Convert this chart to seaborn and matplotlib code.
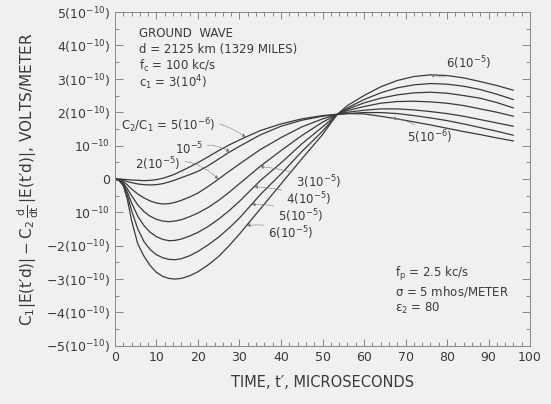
import numpy as np
import pandas as pd
import seaborn as sns
import matplotlib.pyplot as plt
from matplotlib.ticker import MultipleLocator

# time axis (microseconds) and curve values in units of 1e-10 V/m
t_us = [0, 1, 2, 3, 4, 5.5, 7, 8.5, 10, 11.5, 13, 14.5, 16, 18, 20, 22.5, 25, 27.5, 30,
        35, 40, 45, 50, 53.5, 56, 60, 64, 68, 72, 76, 80, 84, 88, 92, 96]

ratios = ['5e-6', '1e-5', '2e-5', '3e-5', '4e-5', '5e-5', '6e-5']

r_5e6 = [0, 0, -0.01, -0.02, -0.03, -0.04, -0.05, -0.04, -0.02, 0.02, 0.08, 0.15, 0.24, 0.36, 0.49,
         0.67, 0.85, 1.02, 1.17,
         1.45, 1.65, 1.80, 1.90, 1.94, 1.96, 1.95, 1.88, 1.80, 1.71, 1.62, 1.52, 1.42, 1.33, 1.23, 1.14]
r_1e5 = [0, -0.01, -0.04, -0.08, -0.11, -0.15, -0.17, -0.18, -0.17, -0.14, -0.09, -0.03, 0.04, 0.13,
         0.23, 0.40, 0.60, 0.80, 0.98,
         1.32, 1.58, 1.76, 1.88, 1.93, 1.96, 1.99, 1.99, 1.96, 1.90, 1.83, 1.75, 1.65, 1.54, 1.43, 1.31]
r_2e5 = [0, -0.02, -0.08, -0.18, -0.30, -0.45, -0.57, -0.66, -0.72, -0.75, -0.74, -0.70, -0.64, -0.54,
         -0.42, -0.22, 0.0, 0.23, 0.45,
         0.88, 1.24, 1.56, 1.80, 1.93, 2.00, 2.06, 2.10, 2.10, 2.07, 2.02, 1.96, 1.88, 1.78, 1.68, 1.58]
r_3e5 = [0, -0.03, -0.12, -0.30, -0.50, -0.78, -0.98, -1.12, -1.21, -1.26, -1.28, -1.26, -1.22, -1.13,
         -1.02, -0.85, -0.64, -0.40, -0.14,
         0.38, 0.85, 1.30, 1.70, 1.93, 2.05, 2.17, 2.27, 2.32, 2.33, 2.31, 2.27, 2.20, 2.10, 2.00, 1.88]
r_4e5 = [0, -0.04, -0.15, -0.40, -0.72, -1.12, -1.40, -1.60, -1.73, -1.81, -1.85, -1.84, -1.80, -1.71,
         -1.60, -1.42, -1.20, -0.95, -0.67,
         -0.05, 0.48, 1.05, 1.56, 1.93, 2.09, 2.28, 2.42, 2.52, 2.58, 2.60, 2.57, 2.50, 2.42, 2.29, 2.13]
r_5e5 = [0, -0.05, -0.18, -0.50, -0.95, -1.50, -1.88, -2.12, -2.27, -2.36, -2.41, -2.42, -2.39, -2.30,
         -2.17, -1.97, -1.74, -1.47, -1.17,
         -0.47, 0.15, 0.82, 1.43, 1.93, 2.13, 2.38, 2.58, 2.73, 2.82, 2.86, 2.84, 2.78, 2.68, 2.54, 2.38]
r_6e5 = [0, -0.05, -0.20, -0.62, -1.25, -1.95, -2.32, -2.60, -2.80, -2.92, -2.98, -3.00, -2.98, -2.90,
         -2.78, -2.57, -2.32, -2.00, -1.65,
         -0.90, -0.15, 0.60, 1.33, 1.93, 2.20, 2.50, 2.76, 2.95, 3.07, 3.12, 3.10, 3.03, 2.92, 2.80, 2.66]

curves = [r_5e6, r_1e5, r_2e5, r_3e5, r_4e5, r_5e5, r_6e5]

ytick_vals = [5, 4, 3, 2, 1, 0, -1, -2, -3, -4, -5]
ytick_labels = ['5(10$^{-10}$)', '4(10$^{-10}$)', '3(10$^{-10}$)', '2(10$^{-10}$)', '10$^{-10}$', '0',
                '10$^{-10}$', '\u22122(10$^{-10}$)', '\u22123(10$^{-10}$)', '\u22124(10$^{-10}$)',
                '\u22125(10$^{-10}$)']

# curve labels: (curve index, time of the mark on the curve, text)
curve_labels = [
    (0, 31.5, '$C_2/C_1$ = 5(10$^{-6}$)'),
    (1, 27.7, '10$^{-5}$'),
    (2, 24.9, '2(10$^{-5}$)'),
    (3, 34.9, '3(10$^{-5}$)'),
    (4, 33.5, '4(10$^{-5}$)'),
    (5, 32.9, '5(10$^{-5}$)'),
    (6, 31.7, '6(10$^{-5}$)'),
    (6, 76.0, '6(10$^{-5}$)'),
    (0, 66.7, '5(10$^{-6}$)'),
]
# where each label text sits, its anchor side and leader curvature
label_pos = [(24.2, 1.61, 'right', -0.25), (21.2, 0.90, 'right', -0.25), (15.8, 0.45, 'right', -0.3),
             (43.6, -0.11, 'left', 0.1), (41.3, -0.60, 'left', 0.1), (39.3, -1.12, 'left', 0.15),
             (36.9, -1.62, 'left', 0.15), (79.8, 3.46, 'left', -0.3), (70.4, 1.25, 'left', 0.2)]

rows = []
for name, vals in zip(ratios, curves):
    for t, v in zip(t_us, vals):
        rows.append({'time': t, 'value': v, 'ratio': name})
df = pd.DataFrame(rows)

sns.set_theme(style='ticks')
plt.rcParams['font.family'] = ['DejaVu Sans']
plt.rcParams['mathtext.default'] = 'regular'

bg = '#f0f0ee'
ink = '#3a3a3a'
fig = plt.figure(figsize=(5.51, 4.04), dpi=100, facecolor=bg)
ax = fig.add_axes([0.2087, 0.144, 0.7532, 0.826])
ax.set_facecolor(bg)

sns.lineplot(data=df, x='time', y='value', hue='ratio', palette=[ink] * len(ratios),
             legend=False, linewidth=0.9, ax=ax)

ax.set_xlim(0, 100)
ax.set_ylim(-5, 5)
ax.xaxis.set_major_locator(MultipleLocator(10))
ax.xaxis.set_minor_locator(MultipleLocator(2))
ax.set_yticks(ytick_vals)
ax.set_yticklabels(ytick_labels)
ax.yaxis.set_minor_locator(MultipleLocator(0.5))
ax.tick_params(which='both', direction='in', top=True, right=True, color='#777777',
               labelsize=9, labelcolor=ink, width=0.6)
ax.tick_params(which='major', length=5)
ax.tick_params(which='minor', length=3)
ax.tick_params(axis='y', which='major', length=6)
for s in ax.spines.values():
    s.set_color('#888888')
    s.set_linewidth(0.7)

ax.set_xlabel("TIME, t\u2032, MICROSECONDS", fontsize=10.5, color=ink, labelpad=8)
ax.set_ylabel(r"$C_1|E(t{\prime}d)|-C_2\,\frac{d}{dt}\,|E(t{\prime}d)|$, VOLTS/METER",
              fontsize=11, color=ink, labelpad=4)

for (ci, tm, txt), (lx, ly, ha, rad) in zip(curve_labels, label_pos):
    yv = np.interp(tm, t_us, curves[ci])
    ax.annotate(txt, xy=(tm, yv), xytext=(lx, ly), ha=ha, va='center', fontsize=8.5, color=ink,
                arrowprops=dict(arrowstyle='-|>', color='#777777', lw=0.5, linestyle=(0, (2, 1.5)),
                                mutation_scale=5, shrinkA=1, shrinkB=0,
                                connectionstyle=f'arc3,rad={rad}'))

info_left = ['GROUND  WAVE', 'd = 2125 km (1329 MILES)', '$f_c$ = 100 kc/s', '$c_1$ = 3(10$^4$)']
for i, line in enumerate(info_left):
    ax.text(5.8, 4.36 - i * 0.49, line, fontsize=8.5, color=ink, va='center')

info_right = ['$f_p$ = 2.5 kc/s', '$\\sigma$ = 5 mhos/METER', '$\\epsilon_2$ = 80']
for i, line in enumerate(info_right):
    ax.text(67.5, -2.84 - i * 0.52, line, fontsize=8.5, color=ink, va='center')

fig.savefig('out.png', dpi=100, facecolor=bg)
